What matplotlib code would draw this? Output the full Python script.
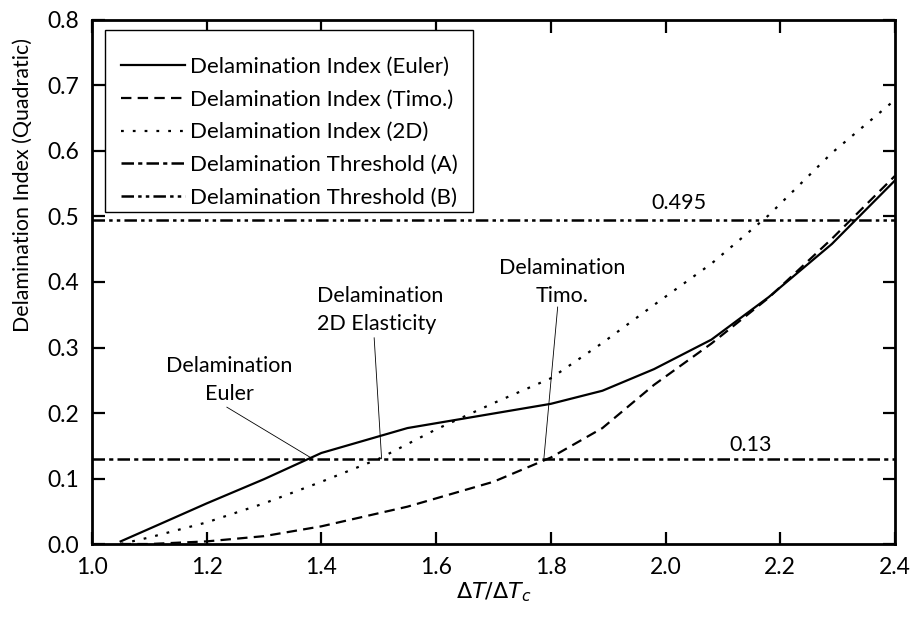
import numpy as np
import matplotlib
matplotlib.use('Agg')
import matplotlib.pyplot as plt
from matplotlib.patches import Rectangle

plt.rcParams['font.family'] = ['Lato', 'DejaVu Sans']
plt.rcParams['mathtext.fontset'] = 'dejavusans'
plt.rcParams['lines.scale_dashes'] = False

# data
x_euler = [1.05, 1.12, 1.2, 1.3, 1.4, 1.55, 1.8, 1.89, 1.98, 2.08, 2.18, 2.29, 2.4]
y_euler = [0.004, 0.031, 0.062, 0.099, 0.139, 0.177, 0.214, 0.234, 0.267, 0.312, 0.377, 0.458, 0.555]

x_timo = [1.05, 1.1, 1.2, 1.3, 1.4, 1.55, 1.7, 1.8, 1.89, 1.98, 2.08, 2.18, 2.29, 2.4]
y_timo = [0.0, 0.0, 0.004, 0.012, 0.027, 0.057, 0.095, 0.132, 0.177, 0.243, 0.306, 0.376, 0.466, 0.562]

x_2d = [1.05, 1.1, 1.2, 1.3, 1.4, 1.5, 1.6, 1.7, 1.8, 1.89, 1.98, 2.08, 2.18, 2.29, 2.4]
y_2d = [0.0, 0.01, 0.033, 0.062, 0.095, 0.13, 0.175, 0.215, 0.253, 0.307, 0.365, 0.428, 0.502, 0.597, 0.678]

thr_a = 0.13
thr_b = 0.495

fig = plt.figure(figsize=(9.16, 6.17), dpi=100)
ax = fig.add_axes([0.1004, 0.1183, 0.8766, 0.8493])

ax.plot(x_euler, y_euler, color='black', lw=1.6, ls='-', label='Delamination Index (Euler)')
ax.plot(x_timo, y_timo, color='black', lw=1.6, ls=(0, (7.5, 4.5)), label='Delamination Index (Timo.)')
ax.plot(x_2d, y_2d, color='black', lw=1.6, ls=(0, (2, 6.5)), label='Delamination Index (2D)')
ax.axhline(thr_a, color='black', lw=1.8, ls=(0, (9, 3, 3, 3)), label='Delamination Threshold (A)')
ax.axhline(thr_b, color='black', lw=1.8, ls=(0, (9, 3, 2.5, 3, 2.5, 3)), label='Delamination Threshold (B)')

ax.set_xlim(1.0, 2.4)
ax.set_ylim(0.0, 0.8)
ax.set_xticks(np.arange(1.0, 2.41, 0.2))
ax.set_yticks(np.arange(0.0, 0.81, 0.1))
ax.xaxis.set_major_formatter(matplotlib.ticker.FormatStrFormatter('%.1f'))
ax.yaxis.set_major_formatter(matplotlib.ticker.FormatStrFormatter('%.1f'))
ax.tick_params(direction='in', length=9, width=1.6, labelsize=16.5, top=True, right=True, pad=9)
for s in ax.spines.values():
    s.set_linewidth(2)

ax.set_xlabel(r'$\Delta T/\Delta T_c$', fontsize=16, labelpad=2)
ax.set_ylabel('Delamination Index (Quadratic)', fontsize=15.4)
ax.yaxis.set_label_coords(-0.074, 0.685)

# annotations: text and leader lines
fs = 15.5
ax.text(1.24, 0.25, 'Delamination\nEuler', ha='center', va='center', fontsize=fs, linespacing=1.5)
ax.text(1.393, 0.358, 'Delamination\n2D Elasticity', ha='left', va='center', fontsize=fs, linespacing=1.5)
ax.text(1.82, 0.40, 'Delamination\nTimo.', ha='center', va='center', fontsize=fs, linespacing=1.5)
lead = dict(arrowstyle='-', color='black', lw=0.6, shrinkA=0, shrinkB=0)
ax.annotate('', xy=(1.383, 0.131), xytext=(1.235, 0.209), arrowprops=lead)
ax.annotate('', xy=(1.505, 0.13), xytext=(1.492, 0.315), arrowprops=lead)
ax.annotate('', xy=(1.788, 0.131), xytext=(1.812, 0.362), arrowprops=lead)
ax.text(2.023, 0.52, '0.495', ha='center', va='center', fontsize=fs)
ax.text(2.148, 0.151, '0.13', ha='center', va='center', fontsize=fs)

# legend box drawn separately (Excel style: more room above the first row)
box = Rectangle((0.0162, 0.6336), 0.4583, 0.3474, transform=ax.transAxes,
                facecolor='white', edgecolor='black', lw=1.0, zorder=4)
ax.add_patch(box)
leg = ax.legend(loc='upper left', bbox_to_anchor=(0.016, 0.962), borderaxespad=0,
                fontsize=16, handlelength=2.85, handletextpad=0.25, borderpad=0.75,
                frameon=False, labelspacing=0.58)
leg.set_zorder(5)

fig.savefig('out.png', dpi=100)
